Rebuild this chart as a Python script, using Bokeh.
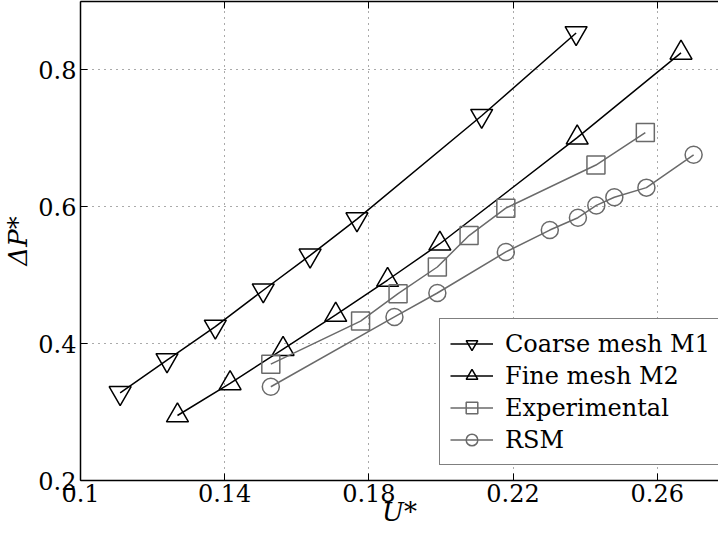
from bokeh.plotting import figure
from bokeh.models import FixedTicker, LinearAxis, Range1d, Legend, LegendItem
from bokeh.embed import file_html
from bokeh.resources import INLINE

# Data
u_coarse = [0.111, 0.124, 0.1374, 0.1507, 0.1637, 0.1767, 0.2113, 0.2375]
p_coarse = [0.328, 0.376, 0.425, 0.478, 0.529, 0.582, 0.733, 0.854]

u_fine = [0.1269, 0.1415, 0.1562, 0.1708, 0.1852, 0.1997, 0.2378, 0.2666]
p_fine = [0.295, 0.342, 0.392, 0.442, 0.493, 0.546, 0.701, 0.825]

u_exp = [0.1528, 0.1777, 0.1881, 0.199, 0.2078, 0.218, 0.243, 0.2567]
p_exp = [0.370, 0.433, 0.473, 0.512, 0.558, 0.598, 0.661, 0.7085]

u_rsm = [0.1528, 0.1871, 0.199, 0.218, 0.2302, 0.238, 0.2431, 0.2481, 0.257, 0.2701]
p_rsm = [0.337, 0.439, 0.474, 0.534, 0.566, 0.584, 0.602, 0.614, 0.628, 0.676]

x_ticks = [0.1, 0.14, 0.18, 0.22, 0.26]
x_tick_labels = ["0.1", "0.14", "0.18", "0.22", "0.26"]
y_ticks = [0.2, 0.4, 0.6, 0.8]
y_tick_labels = ["0.2", "0.4", "0.6", "0.8"]

labels = ["Coarse mesh M1", "Fine mesh M2", "Experimental", "RSM"]

FONT = "DejaVu Serif"
FS = "24px"
FS_AX = "26px"
BLACK = "#000000"
GRAY = "#6a6a6a"

p = figure(width=718, height=535, output_backend="svg", toolbar_location=None,
           x_range=Range1d(0.1, 0.277), y_range=Range1d(0.2, 0.9),
           min_border_left=73, min_border_right=0, min_border_top=1,
           min_border_bottom=55, outline_line_color=None,
           background_fill_color="white", border_fill_color="white")

# axes
for ax in (p.xaxis[0], p.yaxis[0]):
    ax.major_tick_in = 7
    ax.major_tick_out = 0
    ax.minor_tick_line_color = None
    ax.axis_line_width = 1.5
    ax.major_tick_line_width = 1
    ax.major_label_text_font = FONT
    ax.major_label_text_font_size = FS
    ax.major_label_text_color = "black"
    ax.axis_label_text_font = FONT
    ax.axis_label_text_font_size = FS_AX
    ax.axis_label_text_font_style = "italic"
    ax.axis_label_text_color = "black"

p.xaxis[0].ticker = FixedTicker(ticks=x_ticks)
p.xaxis[0].major_label_overrides = {t: l for t, l in zip(x_ticks, x_tick_labels)}
p.xaxis[0].axis_label = "U*"
p.xaxis[0].major_label_standoff = 3
p.xaxis[0].axis_label_standoff = -8

p.yaxis[0].ticker = FixedTicker(ticks=y_ticks)
p.yaxis[0].major_label_overrides = {t: l for t, l in zip(y_ticks, y_tick_labels)}
p.yaxis[0].axis_label = "ΔP*"
p.yaxis[0].major_label_standoff = 4
p.yaxis[0].axis_label_standoff = 2

top = LinearAxis(ticker=FixedTicker(ticks=x_ticks), major_tick_in=7, major_tick_out=0,
                 minor_tick_line_color=None, axis_line_width=1.5,
                 major_label_text_color=None, major_label_standoff=0)
p.add_layout(top, "above")

# grid
for g in (p.xgrid[0], p.ygrid[0]):
    g.grid_line_color = "#555555"
    g.grid_line_dash = "1 5"
    g.grid_line_width = 1
p.xgrid[0].ticker = FixedTicker(ticks=x_ticks)
p.ygrid[0].ticker = FixedTicker(ticks=y_ticks)

# series
l1 = p.line(u_coarse, p_coarse, line_color=BLACK, line_width=1.5)
s1 = p.scatter(u_coarse, p_coarse, marker="inverted_triangle", size=22,
               fill_color=None, line_color=BLACK, line_width=1.5)
l2 = p.line(u_fine, p_fine, line_color=BLACK, line_width=1.5)
s2 = p.scatter(u_fine, p_fine, marker="triangle", size=22,
               fill_color=None, line_color=BLACK, line_width=1.5)
l3 = p.line(u_exp, p_exp, line_color=GRAY, line_width=1.5)
s3 = p.scatter(u_exp, p_exp, marker="square", size=18,
               fill_color=None, line_color=GRAY, line_width=1.5)
l4 = p.line(u_rsm, p_rsm, line_color=GRAY, line_width=1.5)
s4 = p.scatter(u_rsm, p_rsm, marker="circle", size=17,
               fill_color=None, line_color=GRAY, line_width=1.5)

legend = Legend(items=[
    LegendItem(label=labels[0], renderers=[l1, s1]),
    LegendItem(label=labels[1], renderers=[l2, s2]),
    LegendItem(label=labels[2], renderers=[l3, s3]),
    LegendItem(label=labels[3], renderers=[l4, s4]),
], location=(359, 15))
legend.label_text_font = FONT
legend.label_text_font_size = FS
legend.label_text_color = "black"
legend.glyph_width = 43
legend.glyph_height = 29
legend.label_height = 29
legend.label_standoff = 12
legend.spacing = 3
legend.padding = 10
legend.margin = 0
legend.border_line_color = "black"
legend.border_line_width = 1
legend.background_fill_alpha = 1
p.add_layout(legend, "center")

open("out.html", "w").write(file_html(p, INLINE))
